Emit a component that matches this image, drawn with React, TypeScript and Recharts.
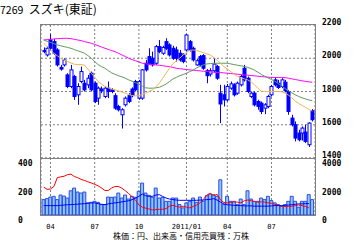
import React from "react";
import { ComposedChart, Bar, Line, XAxis, YAxis, CartesianGrid } from "recharts";

// weekly candles, Friday dates from 2010/03/19
const weekDates: string[] = Array.from({ length: 80 }, (_, i) => {
  const d = new Date(Date.UTC(2010, 2, 19 + i * 7));
  const mm = String(d.getUTCMonth() + 1).padStart(2, "0");
  const dd = String(d.getUTCDate()).padStart(2, "0");
  return `${d.getUTCFullYear()}/${mm}/${dd}`;
});

const monthTicks = ["2010/04/02", "2010/07/02", "2010/10/01", "2011/01/07", "2011/04/01", "2011/07/01"];
const monthLabels = ["04", "07", "10", "2011/01", "04", "07"];

const priceTicks = [1400, 1600, 1800, 2000, 2200];
const volumeTicks = [0, 2000, 4000];
const marginTicks = [0, 200, 400];

const opens = [
  2046, 2020, 2110, 2100, 2050, 1945, 1960, 1900, 1830, 1890,
  1780, 1860, 1850, 1840, 1910, 1850, 1760, 1815, 1770, 1820,
  1810, 1775, 1710, 1660, 1720, 1775, 1815, 1860, 1760, 1760,
  1970, 2010, 2000, 1970, 2070, 2030, 2100, 2080, 2060, 2050,
  2030, 2020, 2050, 2100, 2060, 1960, 2010, 2016, 1925, 1905,
  1925, 1950, 1790, 1780, 1750, 1820, 1840, 1790, 1840, 1940,
  1880, 1770, 1790, 1740, 1730, 1700, 1710, 1780, 1870, 1850,
  1830, 1856, 1800, 1640, 1600, 1550, 1550, 1556, 1480, 1684,
];
const highs = [
  2065, 2070, 2145, 2115, 2060, 1960, 2000, 1910, 1960, 1900,
  1850, 1950, 1870, 1900, 1920, 1860, 1830, 1830, 1830, 1860,
  1820, 1790, 1720, 1700, 1770, 1790, 1825, 1870, 1870, 1935,
  1990, 2060, 2040, 2080, 2110, 2075, 2120, 2090, 2075, 2070,
  2050, 2030, 2145, 2110, 2070, 1995, 2020, 2025, 1935, 1940,
  2000, 1960, 1840, 1840, 1845, 1860, 1850, 1860, 1900, 1960,
  1890, 1800, 1800, 1750, 1740, 1730, 1780, 1840, 1885, 1870,
  1880, 1870, 1810, 1660, 1620, 1570, 1590, 1600, 1615, 1694,
];
const lows = [
  2030, 2010, 2050, 2020, 1950, 1925, 1950, 1820, 1820, 1750,
  1720, 1850, 1800, 1820, 1800, 1730, 1720, 1790, 1760, 1760,
  1790, 1690, 1680, 1577, 1710, 1730, 1765, 1800, 1750, 1750,
  1920, 1960, 1950, 1960, 2030, 2020, 2050, 2010, 1990, 1980,
  1980, 1970, 2040, 2040, 1980, 1955, 1950, 1930, 1850, 1890,
  1915, 1870, 1610, 1710, 1740, 1810, 1770, 1780, 1830, 1860,
  1790, 1760, 1710, 1690, 1664, 1664, 1700, 1770, 1830, 1815,
  1820, 1795, 1660, 1590, 1500, 1500, 1505, 1490, 1466, 1620,
];
const closes = [
  2044, 2060, 2060, 2030, 1960, 1935, 1990, 1830, 1930, 1770,
  1830, 1920, 1810, 1880, 1810, 1740, 1820, 1805, 1820, 1800,
  1800, 1700, 1690, 1690, 1760, 1740, 1775, 1810, 1860, 1930,
  1930, 1970, 1960, 2070, 2040, 2065, 2060, 2020, 2000, 2000,
  1990, 1980, 2140, 2050, 1990, 1985, 1960, 1940, 1895, 1925,
  1965, 1880, 1725, 1750, 1830, 1846, 1780, 1850, 1890, 1870,
  1800, 1790, 1720, 1710, 1680, 1720, 1770, 1830, 1840, 1824,
  1870, 1804, 1680, 1600, 1520, 1510, 1580, 1500, 1610, 1630,
];

// moving averages
const maShort = [
  2090, 2070, 2050, 2030, 2015, 2000, 1990, 1980, 1972, 1964,
  1962, 1962, 1958, 1935, 1910, 1885, 1860, 1845, 1830, 1822,
  1815, 1810, 1803, 1797, 1790, 1782, 1776, 1774, 1775, 1782,
  1790, 1800, 1810, 1828, 1850, 1880, 1910, 1940, 1968, 1985,
  2000, 2020, 2035, 2048, 2050, 2046, 2040, 2033, 2026, 2020,
  2005, 1988, 1970, 1950, 1935, 1920, 1905, 1890, 1882, 1876,
  1870, 1858, 1840, 1820, 1802, 1800, 1800, 1800, 1800, 1800,
  1798, 1790, 1778, 1762, 1742, 1728, 1716, 1705, 1692, 1682,
];
const maMid = [
  2110, 2102, 2095, 2088, 2080, 2075, 2070, 2065, 2060, 2052,
  2045, 2038, 2030, 2016, 2000, 1980, 1962, 1950, 1940, 1925,
  1912, 1903, 1895, 1888, 1880, 1870, 1862, 1853, 1845, 1833,
  1822, 1820, 1820, 1822, 1826, 1834, 1845, 1860, 1875, 1885,
  1895, 1902, 1910, 1920, 1930, 1942, 1952, 1960, 1966, 1968,
  1970, 1970, 1970, 1970, 1970, 1966, 1962, 1958, 1955, 1950,
  1945, 1938, 1928, 1916, 1903, 1892, 1882, 1872, 1862, 1848,
  1834, 1818, 1804, 1792, 1780, 1770, 1762, 1755, 1749, 1745,
];
const maLong = [
  2110, 2112, 2114, 2116, 2118, 2119, 2120, 2120, 2118, 2114,
  2110, 2106, 2100, 2095, 2090, 2083, 2075, 2068, 2060, 2053,
  2046, 2040, 2030, 2020, 2010, 2000, 1992, 1985, 1978, 1970,
  1967, 1964, 1962, 1960, 1958, 1955, 1952, 1950, 1945, 1940,
  1937, 1935, 1932, 1930, 1928, 1926, 1924, 1922, 1920, 1918,
  1916, 1915, 1914, 1912, 1910, 1908, 1906, 1904, 1902, 1900,
  1898, 1896, 1894, 1892, 1890, 1888, 1886, 1885, 1884, 1884,
  1884, 1883, 1880, 1876, 1872, 1868, 1864, 1861, 1858, 1856,
];

// 出来高 (万株)
const volumes = [
  1080, 1150, 1260, 1310, 1080, 1400, 1330, 1190, 1700, 1890,
  1610, 1540, 1610, 850, 890, 960, 890, 730, 730, 1260,
  1240, 1260, 1540, 1190, 1400, 1120, 1310, 1240, 1660, 2240,
  1540, 1380, 1240, 1890, 1190, 1240, 960, 960, 1190, 1190,
  730, 500, 850, 960, 1190, 890, 1260, 960, 1350, 1470,
  1420, 1310, 2470, 730, 1310, 960, 960, 730, 1120, 730,
  1700, 1120, 960, 960, 1190, 1080, 1310, 1010, 850, 730,
  610, 730, 960, 1310, 960, 550, 960, 960, 1430, 1080,
];
// 信用残 (万株)
const marginRed = [
  196, 180, 182, 200, 262, 268, 272, 283, 287, 270,
  262, 250, 242, 233, 225, 215, 205, 190, 172, 172,
  190, 200, 200, 188, 170, 150, 128, 105, 70, 55,
  48, 42, 35, 38, 40, 40, 45, 62, 68, 60,
  55, 62, 55, 50, 60, 70, 85, 110, 140, 152,
  135, 145, 105, 88, 85, 88, 92, 90, 85, 100,
  105, 100, 95, 90, 92, 90, 85, 82, 75, 68,
  62, 60, 60, 62, 66, 70, 66, 60, 50, null,
];
const marginBlue = [
  66, 66, 66, 66, 66, 68, 70, 72, 73, 74,
  76, 78, 80, 82, 85, 85, 80, 75, 73, 78,
  82, 85, 88, 92, 96, 100, 108, 118, 131, 147,
  135, 131, 131, 140, 143, 130, 119, 112, 108, 105,
  103, 103, 103, 103, 103, 103, 105, 105, 108, 110,
  115, 105, 90, 78, 72, 70, 68, 66, 66, 64,
  64, 64, 62, 62, 62, 62, 62, 64, 66, 66,
  66, 68, 70, 72, 75, 78, 78, 80, 80, null,
];

const rows = weekDates.map((date, i) => ({
  date,
  open: opens[i],
  high: highs[i],
  low: lows[i],
  close: closes[i],
  range: [lows[i], highs[i]],
  maShort: maShort[i],
  maMid: maMid[i],
  maLong: maLong[i],
  vol: volumes[i],
  red: marginRed[i],
  blue: marginBlue[i],
}));

const BLUE = "#0000ff";
const GRID = "#808080";
const tickFont = "DejaVu Sans Mono";

const Candle = (props: any) => {
  const { x, y, width, height, payload } = props;
  const top = Math.min(y, y + height);
  const h = Math.abs(height);
  const span = payload.high - payload.low || 1;
  const toY = (v: number) => top + ((payload.high - v) / span) * h;
  const cx = Math.round(x + width / 2) + 0.5;
  const yo = toY(payload.open);
  const yc = toY(payload.close);
  const bTop = Math.min(yo, yc);
  const bH = Math.max(Math.abs(yo - yc), 1);
  const up = payload.close > payload.open;
  return (
    <g>
      <line x1={cx} x2={cx} y1={top} y2={top + h} stroke={BLUE} strokeWidth={1} />
      <rect x={cx - 1.5} y={bTop} width={3} height={bH} fill={up ? "#ffffff" : BLUE} stroke={BLUE} strokeWidth={1} />
    </g>
  );
};

const RightTick = (dy: number) => (props: any) => {
  const { x, y, payload } = props;
  return (
    <text x={x + 7} y={y + dy} textAnchor="start" fontFamily={tickFont} fontWeight="bold" fontSize={8} fill="#000">
      {payload.value}
    </text>
  );
};

const LeftTick = (props: any) => {
  const { x, y, payload } = props;
  return (
    <text x={x - 23} y={y + 8} textAnchor="start" fontFamily={tickFont} fontWeight="bold" fontSize={8} fill="#000">
      {payload.value}
    </text>
  );
};

const MonthTick = (props: any) => {
  const { x, y, payload } = props;
  const label = monthLabels[monthTicks.indexOf(payload.value)];
  return (
    <text x={x} y={y + 14} textAnchor="middle" fontFamily={tickFont} fontSize={7} fill="#000">
      {label}
    </text>
  );
};

const frame = (left: number, top: number, width: number, height: number) => ({
  position: "absolute" as const,
  left,
  top,
  width,
  height,
  boxSizing: "border-box" as const,
  border: "1px solid #808080",
  pointerEvents: "none" as const,
});

export default function App() {
  return (
    <div style={{ position: "absolute", left: 0, top: 0, width: 355, height: 240, background: "#fff", overflow: "hidden" }}>
      <div style={{ position: "absolute", left: 0, top: 0, whiteSpace: "pre", fontFamily: "'Noto Sans CJK JP'", color: "#000", lineHeight: "14px" }}>
        <span style={{ fontSize: 10.5 }}>7269</span>
        <span style={{ fontSize: 12 }}>{"  スズキ(東証)"}</span>
      </div>

      <div style={{ position: "absolute", left: 0, top: 0 }}>
        <ComposedChart width={355} height={240} data={rows} margin={{ top: 25, right: 0, left: 41, bottom: 82 }}>
          <CartesianGrid stroke={GRID} strokeDasharray="2 2" />
          <XAxis dataKey="date" hide ticks={monthTicks} interval={0} padding={{ left: 1, right: 1 }} />
          <YAxis
            orientation="right"
            width={40}
            domain={[1400, 2200]}
            ticks={priceTicks}
            allowDataOverflow
            axisLine={false}
            tickLine={false}
            tickSize={0}
            tickMargin={0}
            tick={RightTick(0)}
          />
          <Bar dataKey="range" barSize={3} shape={Candle} isAnimationActive={false} />
          <Line dataKey="maLong" stroke="#ff00ff" strokeWidth={1} dot={false} isAnimationActive={false} />
          <Line dataKey="maMid" stroke="#5f9a5f" strokeWidth={1} dot={false} isAnimationActive={false} />
          <Line dataKey="maShort" stroke="#f0b450" strokeWidth={1} dot={false} isAnimationActive={false} />
        </ComposedChart>
      </div>

      <div style={{ position: "absolute", left: 0, top: 0 }}>
        <ComposedChart width={355} height={240} data={rows} margin={{ top: 158, right: 0, left: 0, bottom: 0 }}>
          <CartesianGrid stroke={GRID} strokeDasharray="2 2" />
          <XAxis
            dataKey="date"
            ticks={monthTicks}
            interval={0}
            height={25}
            padding={{ left: 1, right: 1 }}
            axisLine={false}
            tickLine={false}
            tickSize={0}
            tickMargin={0}
            tick={MonthTick}
          />
          <YAxis
            yAxisId="m"
            orientation="left"
            width={41}
            domain={[0, 400]}
            ticks={marginTicks}
            axisLine={false}
            tickLine={false}
            tickSize={0}
            tickMargin={0}
            tick={LeftTick}
          />
          <YAxis
            yAxisId="v"
            orientation="right"
            width={40}
            domain={[0, 4000]}
            ticks={volumeTicks}
            axisLine={false}
            tickLine={false}
            tickSize={0}
            tickMargin={0}
            tick={RightTick(8)}
          />
          <Bar yAxisId="v" dataKey="vol" barSize={3} fill="#8ec8ff" stroke="#2d4be0" strokeWidth={1} isAnimationActive={false} />
          <Line yAxisId="m" dataKey="red" stroke="#ff0000" strokeWidth={1} dot={false} isAnimationActive={false} />
          <Line yAxisId="m" dataKey="blue" stroke={BLUE} strokeWidth={1} dot={false} isAnimationActive={false} />
        </ComposedChart>
      </div>

      <div style={frame(40, 24, 276, 135)} />
      <div style={frame(40, 158, 276, 58)} />

      <div style={{ position: "absolute", left: 113, top: 230.5, whiteSpace: "pre", fontFamily: "'Noto Sans CJK JP'", fontSize: 8, lineHeight: "9px", color: "#000" }}>
        株価：円、出来高・信用売買残：万株
      </div>
    </div>
  );
}
